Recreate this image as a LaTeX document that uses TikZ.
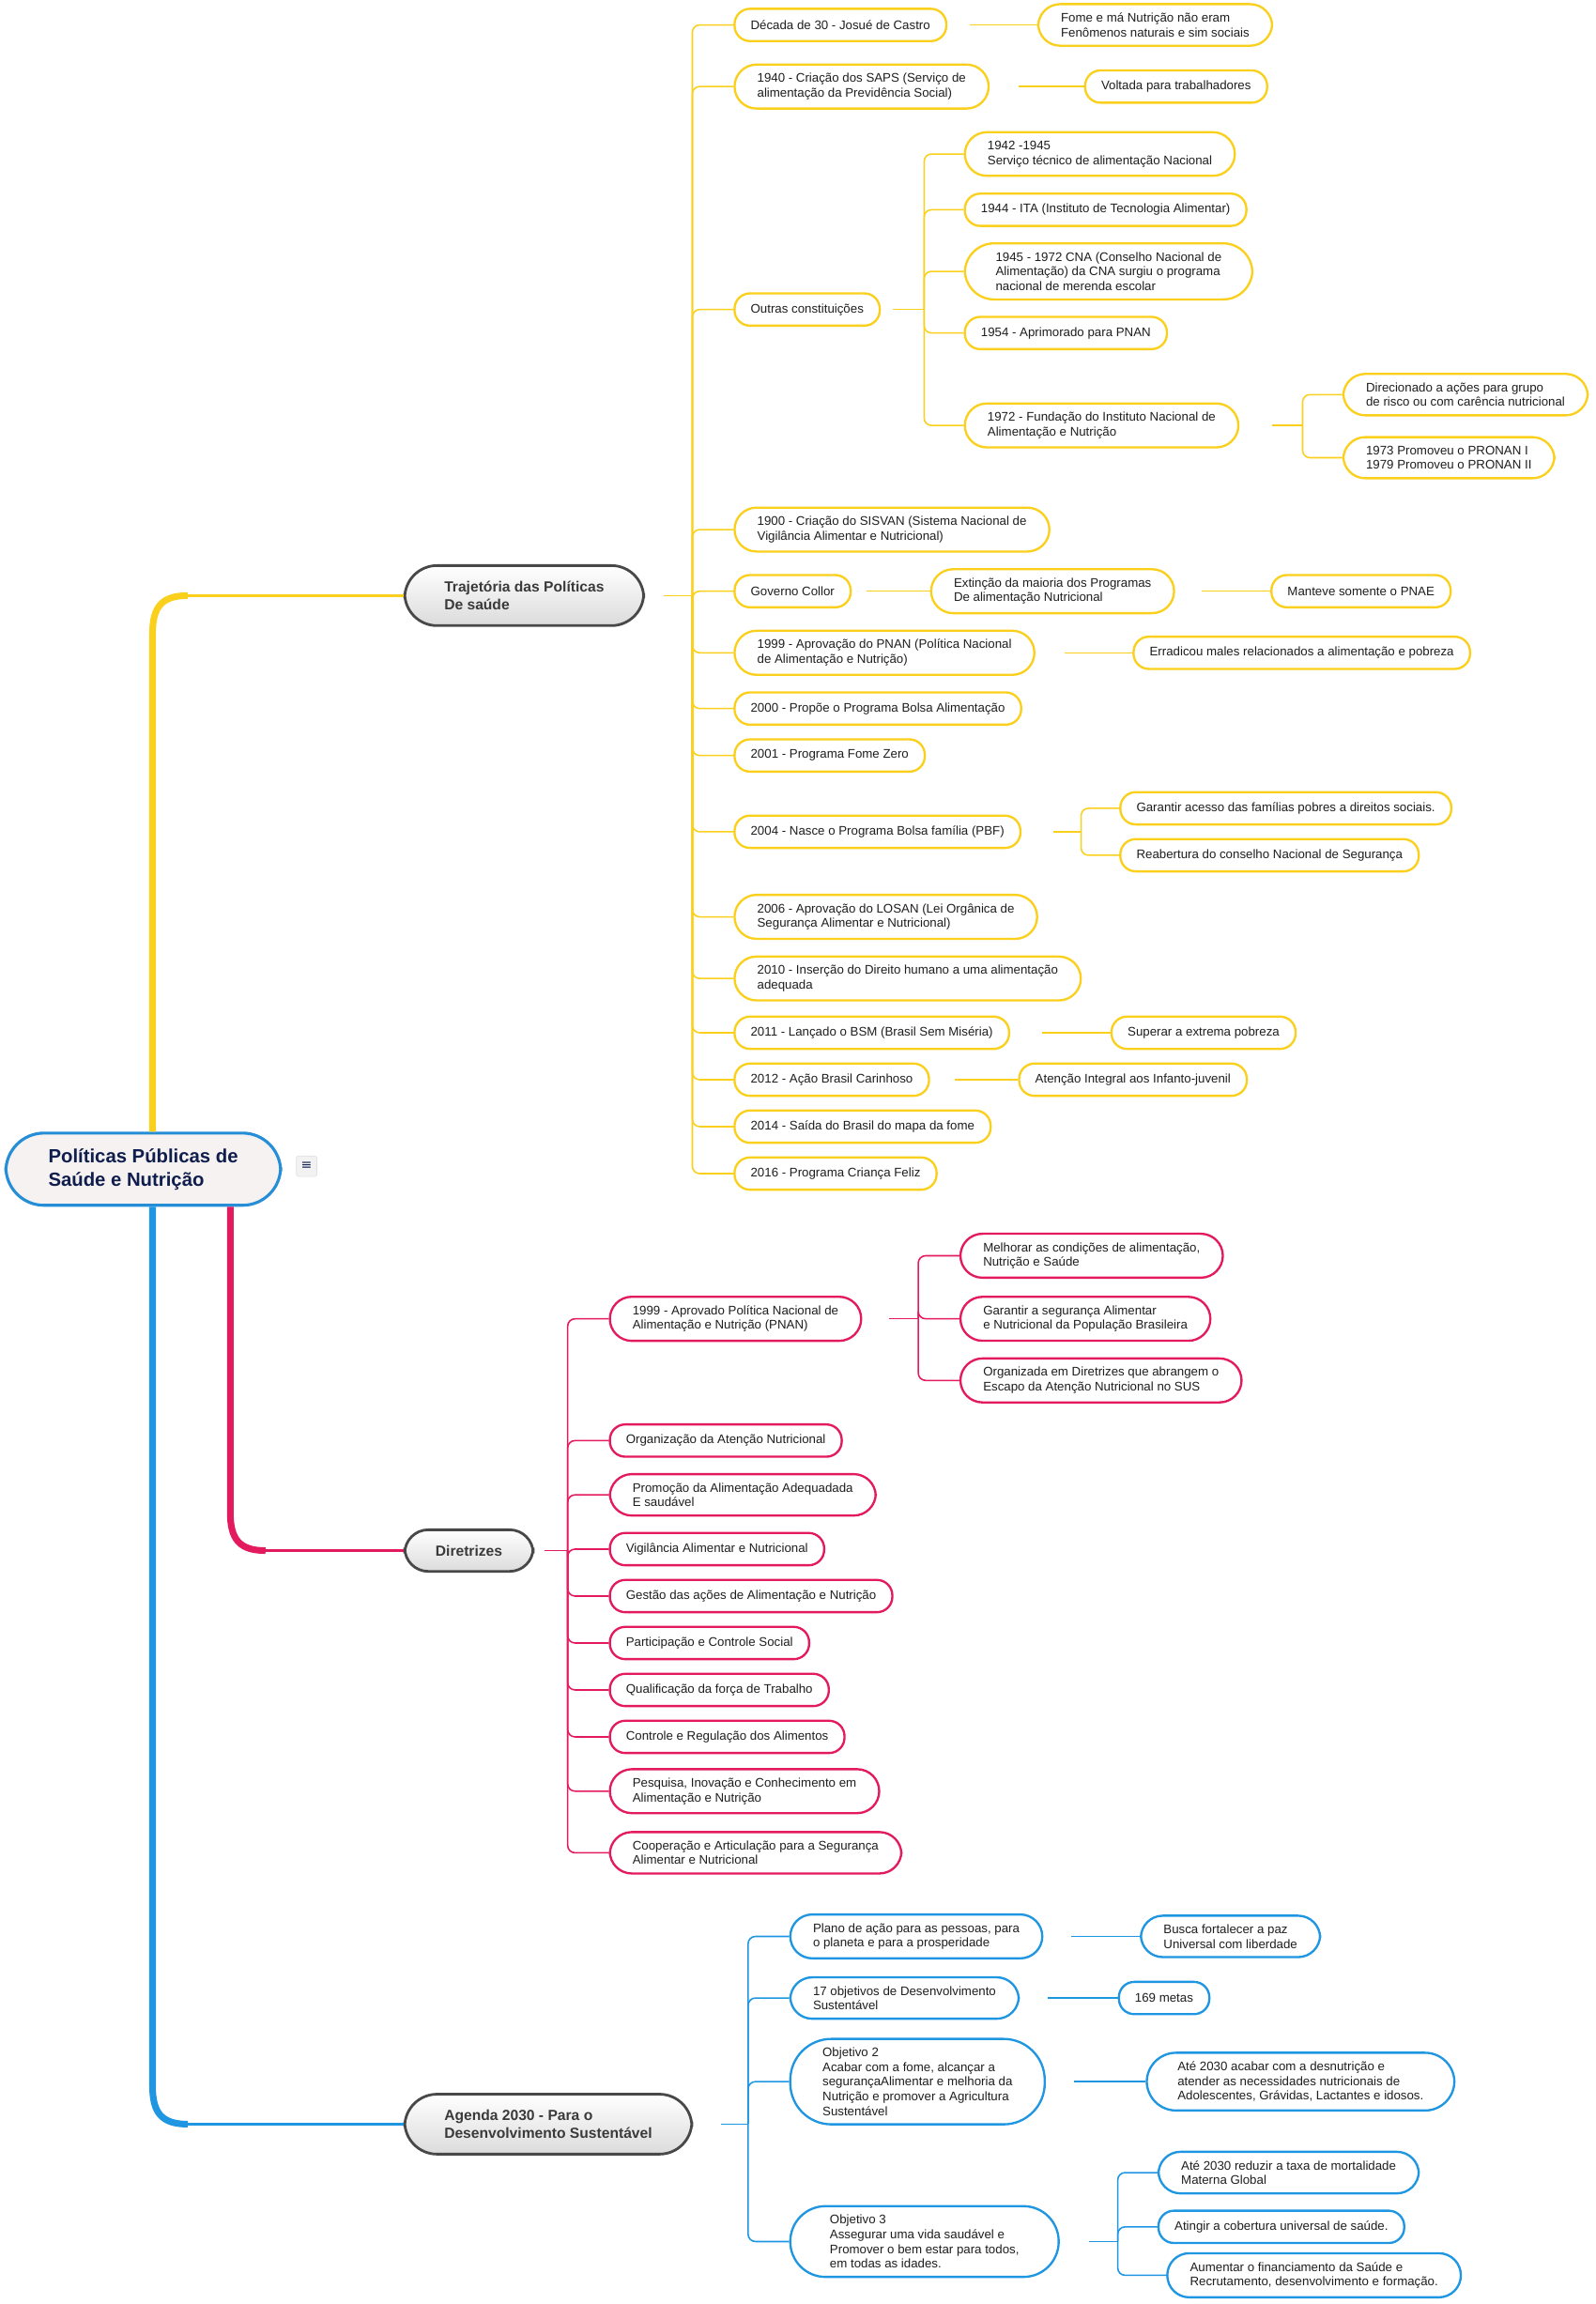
\documentclass[tikz,border=0pt]{standalone}
\usepackage{fontspec}
\setmainfont{Liberation Sans}
\newfontfamily\symfont{DejaVu Sans}
\usetikzlibrary{calc,positioning}
\definecolor{ylw}{RGB}{250,208,28}
\definecolor{pnk}{RGB}{228,26,94}
\definecolor{blu}{RGB}{30,150,226}
\definecolor{hdline}{RGB}{72,72,72}
\definecolor{hdtext}{RGB}{58,58,58}
\definecolor{rootfill}{RGB}{245,242,241}
\definecolor{rootline}{RGB}{38,142,214}
\definecolor{roottext}{RGB}{16,30,78}

\begin{document}
\begin{tikzpicture}[x=1pt,y=-1pt,
    leaf/.style={rectangle,rounded corners=10.5pt,draw,line width=1.5pt,fill=white,inner xsep=11pt,inner ysep=6pt,
                 minimum height=22pt,align=left,anchor=west,text=black!88,font=\fontsize{8.5}{10}\selectfont},
    two/.style={inner xsep=15.5pt,rounded corners=15pt},
    three/.style={inner xsep=21pt,rounded corners=20pt},
    yleaf/.style={leaf,draw=ylw},
    pleaf/.style={leaf,draw=pnk},
    bleaf/.style={leaf,draw=blu},
    hub/.style={rectangle,rounded corners=22pt,draw=hdline,line width=1.8pt,top color=white,bottom color=black!14,
                inner xsep=27pt,inner ysep=10.5pt,align=left,anchor=west,text=hdtext,
                font=\fontsize{10}{12.5}\selectfont\bfseries},
    wire/.style={line width=1pt},
    gap/.style={shorten <=#1},
    trunk/.style={line width=4.5pt},
    elbow/.style={rounded corners=5pt,to path={|- (\tikztotarget)}}]
  \useasboundingbox (0,0) rectangle (1088,1570.6);

  \node[rectangle,rounded corners=26pt,draw=rootline,line width=2pt,fill=rootfill,inner xsep=29pt,inner ysep=10.5pt,
        align=left,anchor=west,text=roottext,font=\fontsize{13}{16}\selectfont\bfseries]
        (root) at (3,797) {Políticas Públicas de\\Saúde e Nutrição};
  \node[draw=black!12,fill=black!5,rounded corners=1.5pt,minimum size=14pt,inner sep=0pt,text=roottext,
        font=\symfont\fontsize{9}{9}\selectfont] (menu) at (209,795) {≡};

  \node[hub] (traj)   at (275,406)  {Trajetória das Políticas\\De saúde};
  \node[hub,rounded corners=16pt,inner xsep=21pt] (dir) at (275,1057) {Diretrizes};
  \node[hub] (agenda) at (275,1448) {Agenda 2030 - Para o\\Desenvolvimento Sustentável};

  % trajetoria
  \node[yleaf] (t1)  at (500,17)  {Década de 30 - Josué de Castro};
  \node[yleaf,two] (t2)  at (500,59)  {1940 - Criação dos SAPS (Serviço de\\alimentação da Previdência Social)};
  \node[yleaf] (t3)  at (500,211) {Outras constituições};
  \node[yleaf,two] (t4)  at (500,361) {1900 - Criação do SISVAN (Sistema Nacional de\\Vigilância Alimentar e Nutricional)};
  \node[yleaf] (t5)  at (500,403) {Governo Collor};
  \node[yleaf,two] (t6)  at (500,445) {1999 - Aprovação do PNAN (Política Nacional\\de Alimentação e Nutrição)};
  \node[yleaf] (t7)  at (500,483) {2000 - Propõe o Programa Bolsa Alimentação};
  \node[yleaf] (t8)  at (500,515) {2001 - Programa Fome Zero};
  \node[yleaf] (t9)  at (500,567) {2004 - Nasce o Programa Bolsa família (PBF)};
  \node[yleaf,two] (t10) at (500,625) {2006 - Aprovação do LOSAN (Lei Orgânica de\\Segurança Alimentar e Nutricional)};
  \node[yleaf,two] (t11) at (500,667) {2010 - Inserção do Direito humano a uma alimentação\\adequada};
  \node[yleaf] (t12) at (500,704) {2011 - Lançado o BSM (Brasil Sem Miséria)};
  \node[yleaf] (t13) at (500,736) {2012 - Ação Brasil Carinhoso};
  \node[yleaf] (t14) at (500,768) {2014 - Saída do Brasil do mapa da fome};
  \node[yleaf] (t15) at (500,800) {2016 - Programa Criança Feliz};

  \node[yleaf,two] (t1a) at (707,17)  {Fome e má Nutrição não eram\\Fenômenos naturais e sim sociais};
  \node[yleaf] (t2a) at (739,59)  {Voltada para trabalhadores};
  \node[yleaf,two] (t3a) at (657,105) {1942 -1945\\Serviço técnico de alimentação Nacional};
  \node[yleaf] (t3b) at (657,143) {1944 - ITA (Instituto de Tecnologia Alimentar)};
  \node[yleaf,three] (t3c) at (657,185) {1945 - 1972 CNA (Conselho Nacional de\\Alimentação) da CNA surgiu o programa\\nacional de merenda escolar};
  \node[yleaf] (t3d) at (657,227) {1954 - Aprimorado para PNAN};
  \node[yleaf,two] (t3e) at (657,290) {1972 - Fundação do Instituto Nacional de\\Alimentação e Nutrição};
  \node[yleaf,two] (t3f) at (915,269) {Direcionado a ações para grupo\\de risco ou com carência nutricional};
  \node[yleaf,two] (t3g) at (915,312) {1973 Promoveu o PRONAN I\\1979 Promoveu o PRONAN II};
  \node[yleaf,two] (t5a) at (634,403) {Extinção da maioria dos Programas\\De alimentação Nutricional};
  \node[yleaf] (t5b) at (866,403) {Manteve somente o PNAE};
  \node[yleaf] (t6a) at (772,445) {Erradicou males relacionados a alimentação e pobreza};
  \node[yleaf] (t9a) at (763,551) {Garantir acesso das famílias pobres a direitos sociais.};
  \node[yleaf] (t9b) at (763,583) {Reabertura do conselho Nacional de Segurança};
  \node[yleaf] (t12a) at (757,704) {Superar a extrema pobreza};
  \node[yleaf] (t13a) at (694,736) {Atenção Integral aos Infanto-juvenil};

  % diretrizes
  \node[pleaf,two] (d1)  at (415,899)  {1999 - Aprovado Política Nacional de\\Alimentação e Nutrição (PNAN)};
  \node[pleaf] (d2)  at (415,982)  {Organização da Atenção Nutricional};
  \node[pleaf,two] (d3)  at (415,1019) {Promoção da Alimentação Adequadada\\E saudável};
  \node[pleaf] (d4)  at (415,1056) {Vigilância Alimentar e Nutricional};
  \node[pleaf] (d5)  at (415,1088) {Gestão das ações de Alimentação e Nutrição};
  \node[pleaf] (d6)  at (415,1120) {Participação e Controle Social};
  \node[pleaf] (d7)  at (415,1152) {Qualificação da força de Trabalho};
  \node[pleaf] (d8)  at (415,1184) {Controle e Regulação dos Alimentos};
  \node[pleaf,two] (d9)  at (415,1221) {Pesquisa, Inovação e Conhecimento em\\Alimentação e Nutrição};
  \node[pleaf,two] (d10) at (415,1263) {Cooperação e Articulação para a Segurança\\Alimentar e Nutricional};
  \node[pleaf,two] (d1a) at (654,856)  {Melhorar as condições de alimentação,\\Nutrição e Saúde};
  \node[pleaf,two] (d1b) at (654,899)  {Garantir a segurança Alimentar\\e Nutricional da População Brasileira};
  \node[pleaf,two] (d1c) at (654,941)  {Organizada em Diretrizes que abrangem o\\Escapo da Atenção Nutricional no SUS};

  % agenda 2030
  \node[bleaf,two] (a1) at (538,1320) {Plano de ação para as pessoas, para\\o planeta e para a prosperidade};
  \node[bleaf,two] (a2) at (538,1362) {17 objetivos de Desenvolvimento\\Sustentável};
  \node[bleaf,inner xsep=22pt,rounded corners=28pt] (a3) at (538,1419) {Objetivo 2\\Acabar com a fome, alcançar a\\segurançaAlimentar e melhoria da\\Nutrição e promover a Agricultura\\Sustentável};
  \node[bleaf,inner xsep=27pt,rounded corners=24pt] (a4) at (538,1528) {Objetivo 3\\Assegurar uma vida saudável e\\Promover o bem estar para todos,\\em todas as idades.};
  \node[bleaf,two] (a1a) at (777,1320) {Busca fortalecer a paz\\Universal com liberdade};
  \node[bleaf] (a2a) at (762,1362) {169 metas};
  \node[bleaf,three] (a3a) at (781,1419) {Até 2030 acabar com a desnutrição e\\atender as necessidades nutricionais de\\Adolescentes, Grávidas, Lactantes e idosos.};
  \node[bleaf,two] (a4a) at (789,1481) {Até 2030 reduzir a taxa de mortalidade\\Materna Global};
  \node[bleaf] (a4b) at (789,1518) {Atingir a cobertura universal de saúde.};
  \node[bleaf,two] (a4c) at (795,1551) {Aumentar o financiamento da Saúde e\\Recrutamento, desenvolvimento e formação.};

  \coordinate (ax) at (104,0);
  \coordinate (px) at (157,0);
  \coordinate (ybend) at (128,406);
  \coordinate (pbend) at (181,1057);
  \coordinate (bbend) at (128,1448);
  \coordinate (tsp)  at (472,406);
  \coordinate (t3sp) at (630,211);
  \coordinate (tesp) at (888,290);
  \coordinate (t9sp) at (737,567);
  \coordinate (dsp)  at (387,1057);
  \coordinate (d1sp) at (626,899);
  \coordinate (asp)  at (510,1448);
  \coordinate (a4sp) at (762,1528);

  \draw[trunk,ylw] (root.north -| ax) -- (104,432) .. controls (104,414) and (110,406) .. (ybend);
  \draw[wire,ylw,line width=1.5pt] (ybend) -- (traj.west);
  \draw[trunk,pnk] (root.south -| px) -- (157,1031) .. controls (157,1049) and (163,1057) .. (pbend);
  \draw[wire,pnk,line width=1.5pt] (pbend) -- (dir.west);
  \draw[trunk,blu] (root.south -| ax) -- (104,1422) .. controls (104,1440) and (110,1448) .. (bbend);
  \draw[wire,blu,line width=1.5pt] (bbend) -- (agenda.west);

  \path[wire,draw=ylw] (traj) edge[gap=13pt] (tsp)
    (tsp) edge[elbow] (t1.west) edge[elbow] (t2.west) edge[elbow] (t3.west) edge[elbow] (t4.west)
          edge[elbow] (t5.west) edge[elbow] (t6.west) edge[elbow] (t7.west) edge[elbow] (t8.west)
          edge[elbow] (t9.west) edge[elbow] (t10.west) edge[elbow] (t11.west) edge[elbow] (t12.west)
          edge[elbow] (t13.west) edge[elbow] (t14.west) edge[elbow] (t15.west)
    (t1.east) edge[gap=15pt] (t1a.west)
    (t2.east) edge[gap=20pt] (t2a.west)
    (t3.east) edge[gap=8pt] (t3sp)
    (t3sp) edge[elbow] (t3a.west) edge[elbow] (t3b.west) edge[elbow] (t3c.west)
           edge[elbow] (t3d.west) edge[elbow] (t3e.west)
    (t3e.east) edge[gap=22pt] (tesp)
    (tesp) edge[elbow] (t3f.west) edge[elbow] (t3g.west)
    (t5.east) edge[gap=10pt] (t5a.west)
    (t5a.east) edge[gap=18pt] (t5b.west)
    (t6.east) edge[gap=20pt] (t6a.west)
    (t9.east) edge[gap=22pt] (t9sp)
    (t9sp) edge[elbow] (t9a.west) edge[elbow] (t9b.west)
    (t12.east) edge[gap=22pt] (t12a.west)
    (t13.east) edge[gap=17pt] (t13a.west);

  \path[wire,draw=pnk] (dir.east) edge[gap=7pt] (dsp)
    (dsp) edge[elbow] (d1.west) edge[elbow] (d2.west) edge[elbow] (d3.west) edge[elbow] (d4.west)
          edge[elbow] (d5.west) edge[elbow] (d6.west) edge[elbow] (d7.west) edge[elbow] (d8.west)
          edge[elbow] (d9.west) edge[elbow] (d10.west)
    (d1.east) edge[gap=18pt] (d1sp)
    (d1sp) edge[elbow] (d1a.west) edge[elbow] (d1b.west) edge[elbow] (d1c.west);

  \path[wire,draw=blu] (agenda.east) edge[gap=19pt] (asp)
    (asp) edge[elbow] (a1.west) edge[elbow] (a2.west) edge[elbow] (a3.west) edge[elbow] (a4.west)
    (a1.east) edge[gap=19pt] (a1a.west)
    (a2.east) edge[gap=19pt] (a2a.west)
    (a3.east) edge[gap=19pt] (a3a.west)
    (a4.east) edge[gap=20pt] (a4sp)
    (a4sp) edge[elbow] (a4a.west) edge[elbow] (a4b.west) edge[elbow] (a4c.west);
\end{tikzpicture}
\end{document}
